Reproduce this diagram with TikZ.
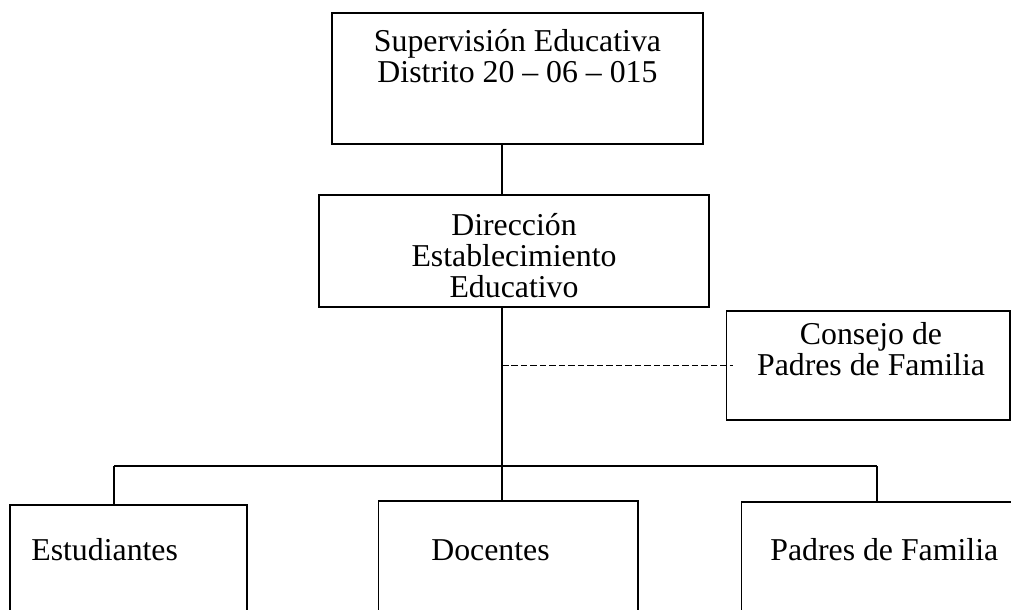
\documentclass[tikz,border=0pt]{standalone}
\usepackage{fontspec}
\setmainfont{Liberation Serif}
\usetikzlibrary{positioning,calc}

\begin{document}
\begin{tikzpicture}[
  x=0.02cm, y=-0.02cm,
  box/.style={draw, line width=0.75pt, inner sep=0pt},
  subbox/.style={draw, line width=0.6pt, inner sep=0pt},
  txt/.style={font=\fontsize{18.1}{17.5}\selectfont, align=center, inner sep=0pt},
  link/.style={line width=0.75pt},
  dashlink/.style={line width=0.75pt, dash pattern=on 3.7pt off 1.7pt},
]
\useasboundingbox (0,0) rectangle (1011,609);
\clip (0,0) rectangle (1011,609);

% Boxes
\node[box, minimum width=7.42cm, minimum height=2.62cm] (sup) at (517.5,78.5) {};
\node[box, minimum width=7.8cm, minimum height=2.24cm] (dir) at (514,251) {};
\node[subbox, minimum width=5.68cm, minimum height=2.18cm] (con) at (868,365.5) {};
\node[subbox, minimum width=4.74cm, minimum height=2.8cm] (est) at (128.5,575) {};
\node[subbox, minimum width=5.2cm, minimum height=2.8cm] (doc) at (508,571) {};
\node[subbox, minimum width=5.78cm, minimum height=2.8cm] (pad) at (885.5,572) {};

% Texts (base = last line)
\node[txt, anchor=base] (supT) at (517.5,82) {Supervisión Educativa\\Distrito 20 – 06 – 015};
\node[txt, anchor=base] (dirT) at (514,297) {Dirección\\Establecimiento\\Educativo};
\node[txt, anchor=base] (conT) at (871,375) {Consejo de\\Padres de Familia};
\node[txt, anchor=base west] (estT) at (31,560) {Estudiantes};
\node[txt, anchor=base west] (docT) at (431,560) {Docentes};
\node[txt, anchor=base west] (padT) at (770,560) {Padres de Familia};

% Connectors
\coordinate (trunk) at (502,0);
\coordinate (bL) at (114,466);
\coordinate (bR) at (877,466);
\draw[link] (sup.south -| trunk) -- (dir.north -| trunk);
\draw[link] (dir.south -| trunk) -- (doc.north -| trunk);
\draw[dashlink] (trunk |- con.west) -- ($(con.west)+(7,0)$);
\draw[subbox] (bL) -- (bR);
\draw[subbox] (bL) -- (bL |- est.north);
\draw[subbox] (bR) -- (bR |- pad.north);
\end{tikzpicture}
\end{document}
